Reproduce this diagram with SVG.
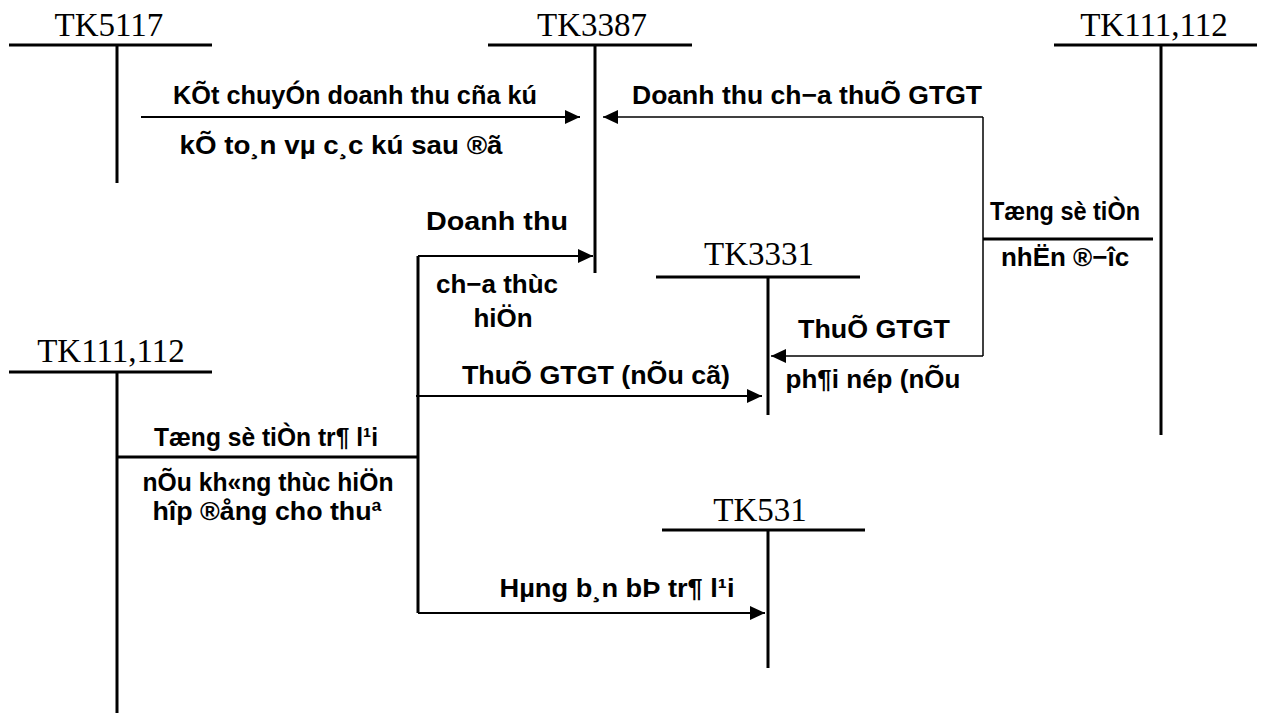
<svg xmlns="http://www.w3.org/2000/svg" width="1266" height="713" viewBox="0 0 1266 713">
  <style>
    .acct { stroke: #000; stroke-width: 3; fill: none; }
    .name { font-family: "Liberation Serif", "Times New Roman", serif; font-size: 33px; fill: #000; text-anchor: middle; }
    .lbl { font-family: "Liberation Sans", Arial, sans-serif; font-weight: bold; font-size: 26px; fill: #000; text-anchor: middle; }
    .flow { stroke: #000; stroke-width: 2; fill: none; }
    .flow-thin { stroke: #000; stroke-width: 1.5; fill: none; }
    .bar { stroke: #000; stroke-width: 3; fill: none; }
  </style>
  <defs>
    <marker id="arrow" markerUnits="userSpaceOnUse" markerWidth="16" markerHeight="14" refX="15" refY="7" orient="auto">
      <path d="M0,0 L15,7 L0,14 Z" fill="#000"/>
    </marker>
  </defs>
  <rect width="1266" height="713" fill="#fff"/>

  <!-- T-accounts -->
  <g id="tk5117">
    <text class="name" x="109" y="36">TK5117</text>
    <path class="acct" d="M9,45 H212 M117,45 V183"/>
  </g>
  <g id="tk3387">
    <text class="name" x="592" y="36">TK3387</text>
    <path class="acct" d="M488,45 H692 M595,45 V273"/>
  </g>
  <g id="tk111-112-right">
    <text class="name" x="1154" y="36">TK111,112</text>
    <path class="acct" d="M1054,45 H1257 M1161,45 V435"/>
  </g>
  <g id="tk3331">
    <text class="name" x="759" y="265">TK3331</text>
    <path class="acct" d="M656,277 H860 M768,277 V415"/>
  </g>
  <g id="tk111-112-left">
    <text class="name" x="111" y="362">TK111,112</text>
    <path class="acct" d="M9,372 H212 M117,372 V713"/>
  </g>
  <g id="tk531">
    <text class="name" x="760" y="521">TK531</text>
    <path class="acct" d="M662,530 H865 M768,530 V668"/>
  </g>

  <!-- Connectors -->
  <g id="connectors">
    <path class="flow" d="M141,117 H580" marker-end="url(#arrow)"/>
    <path class="flow-thin" d="M983,117 V356"/>
    <path class="flow-thin" d="M983,117 H603" marker-end="url(#arrow)"/>
    <path class="flow-thin" d="M983,356 H771" marker-end="url(#arrow)"/>
    <path class="bar" d="M1153,239 H983"/>
    <path class="bar" d="M117,457 H418"/>
    <path class="bar" d="M418,256 V613"/>
    <path class="flow" d="M418,256 H593" marker-end="url(#arrow)"/>
    <path class="flow" d="M416,396 H762" marker-end="url(#arrow)"/>
    <path class="flow" d="M418,613 H765" marker-end="url(#arrow)"/>
  </g>

  <!-- Labels -->
  <g id="labels">
    <text class="lbl" x="355" y="104" textLength="364" lengthAdjust="spacingAndGlyphs">KÕt chuyÓn doanh thu cña kú</text>
    <text class="lbl" x="341" y="154" textLength="323" lengthAdjust="spacingAndGlyphs">kÕ to¸n vµ c¸c kú sau ®ã</text>
    <text class="lbl" x="807" y="104" textLength="350" lengthAdjust="spacingAndGlyphs">Doanh thu ch−a thuÕ GTGT</text>
    <text class="lbl" x="1065" y="220" textLength="150" lengthAdjust="spacingAndGlyphs">Tæng sè tiÒn</text>
    <text class="lbl" x="1065" y="266">nhËn ®−îc</text>
    <text class="lbl" x="497" y="230" textLength="142" lengthAdjust="spacingAndGlyphs">Doanh thu</text>
    <text class="lbl" x="497" y="293">ch−a thùc</text>
    <text class="lbl" x="503" y="327">hiÖn</text>
    <text class="lbl" x="874" y="338" textLength="152" lengthAdjust="spacingAndGlyphs">ThuÕ GTGT</text>
    <text class="lbl" x="873" y="388">ph¶i nép (nÕu</text>
    <text class="lbl" x="596" y="384" textLength="268" lengthAdjust="spacingAndGlyphs">ThuÕ GTGT (nÕu cã)</text>
    <text class="lbl" x="266" y="446" textLength="224" lengthAdjust="spacingAndGlyphs">Tæng sè tiÒn tr¶ l¹i</text>
    <text class="lbl" x="268" y="491" textLength="251" lengthAdjust="spacingAndGlyphs">nÕu kh«ng thùc hiÖn</text>
    <text class="lbl" x="267" y="520" textLength="229" lengthAdjust="spacingAndGlyphs">hîp ®ång cho thuª</text>
    <text class="lbl" x="617" y="597" textLength="235" lengthAdjust="spacingAndGlyphs">Hµng b¸n bÞ tr¶ l¹i</text>
  </g>
</svg>
